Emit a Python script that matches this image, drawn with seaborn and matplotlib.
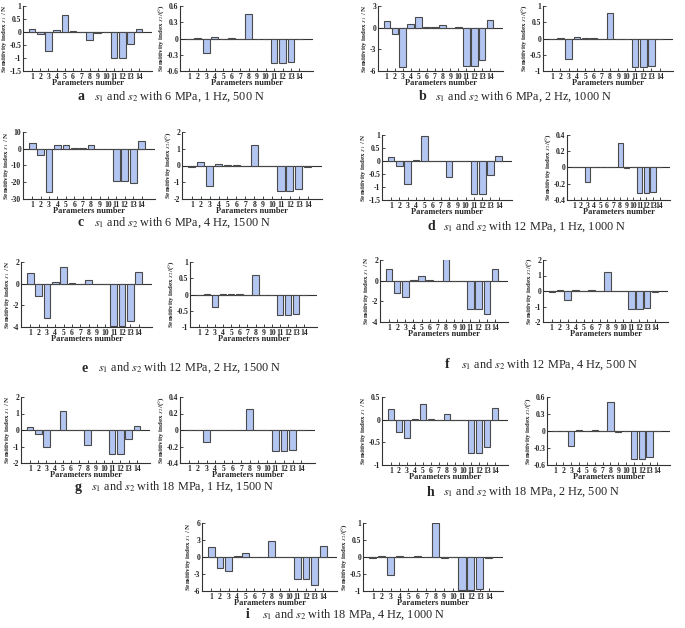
import numpy as np
import pandas as pd
import seaborn as sns
import matplotlib.pyplot as plt

params = [str(i) for i in range(1, 15)]

# s1 (left, N) and s2 (right, degree) sensitivity indices per condition
a_s1 = [0.1, -0.08, -0.72, 0.07, 0.65, 0.02, 0.0, -0.3, -0.02, 0.0, -1.0, -1.0, -0.45, 0.12]
a_s2 = [-0.005, 0.005, -0.27, 0.02, 0.0, 0.01, 0.0, 0.45, -0.01, 0.0, -0.45, -0.45, -0.43, 0.0]
b_s1 = [0.9, -0.9, -5.4, 0.5, 1.5, 0.1, 0.05, 0.4, -0.05, 0.05, -5.3, -5.3, -4.5, 1.05]
b_s2 = [-0.02, 0.03, -0.62, 0.05, 0.01, 0.02, 0.0, 0.8, -0.02, 0.0, -0.88, -0.88, -0.85, -0.02]
c_s1 = [3.5, -3.5, -26, 2.5, 2.0, 0.5, 0.2, 2.0, -0.2, 0.0, -19, -19, -20.5, 4.8]
c_s2 = [-0.1, 0.2, -1.2, 0.1, 0.02, 0.05, 0.0, 1.25, -0.03, 0.0, -1.5, -1.5, -1.4, -0.08]
d_s1 = [0.15, -0.18, -0.87, 0.03, 0.95, 0.01, 0.0, -0.62, 0.0, 0.0, -1.27, -1.27, -0.52, 0.18]
d_s2 = [0.0, 0.0, -0.18, 0.005, 0.0, 0.005, 0.0, 0.3, -0.005, 0.0, -0.31, -0.31, -0.3, 0.0]
e_s1 = [1.0, -1.1, -3.2, 0.15, 1.55, 0.05, 0.0, 0.35, -0.05, 0.0, -3.95, -3.95, -3.4, 1.05]
e_s2 = [-0.01, 0.02, -0.38, 0.02, 0.01, 0.02, 0.0, 0.6, -0.01, 0.0, -0.62, -0.62, -0.6, 0.0]
f_s1 = [1.1, -1.2, -1.6, 0.08, 0.45, 0.03, 0.0, 2.1, 0.0, 0.0, -2.7, -2.7, -3.25, 1.1]
f_s2 = [-0.05, 0.05, -0.6, 0.05, 0.01, 0.05, 0.0, 1.2, -0.02, 0.0, -1.15, -1.15, -1.1, -0.05]
g_s1 = [0.18, -0.22, -1.0, 0.03, 1.15, 0.01, 0.0, -0.88, 0.0, 0.0, -1.45, -1.45, -0.55, 0.22]
g_s2 = [0.0, 0.0, -0.15, 0.003, 0.0, 0.005, 0.0, 0.25, -0.003, 0.0, -0.25, -0.25, -0.24, 0.0]
h_s1 = [0.23, -0.27, -0.4, 0.02, 0.35, 0.01, 0.0, 0.12, 0.0, 0.0, -0.73, -0.73, -0.6, 0.25]
h_s2 = [0.0, 0.005, -0.26, 0.01, 0.0, 0.02, 0.0, 0.52, -0.02, 0.0, -0.49, -0.49, -0.46, 0.0]
i_s1 = [1.8, -2.0, -2.4, 0.1, 0.7, 0.02, 0.0, 2.8, -0.05, 0.0, -3.9, -3.9, -4.9, 1.95]
i_s2 = [-0.03, 0.04, -0.52, 0.02, 0.01, 0.03, 0.0, 1.0, -0.02, 0.0, -0.97, -0.97, -0.93, -0.03]

captions = ["6 MPa, 1 Hz, 500 N", "6 MPa, 2 Hz, 1000 N", "6 MPa, 4 Hz, 1500 N",
            "12 MPa, 1 Hz, 1000 N", "12 MPa, 2 Hz, 1500 N", "12 MPa, 4 Hz, 500 N",
            "18 MPa, 1 Hz, 1500 N", "18 MPa, 2 Hz, 500 N", "18 MPa, 4 Hz, 1000 N"]
letters = list("abcdefghi")

s1_ticks = [[1, 0.5, 0, -0.5, -1, -1.5], [3, 0, -3, -6], [10, 0, -10, -20, -30],
            [1, 0.5, 0, -0.5, -1, -1.5], [2, 0, -2, -4], [2, 0, -2, -4],
            [2, 1, 0, -1, -2], [0.5, 0, -0.5, -1], [6, 3, 0, -3, -6]]
s2_ticks = [[0.6, 0.3, 0, -0.3, -0.6], [1, 0.5, 0, -0.5, -1], [2, 1, 0, -1, -2],
            [0.4, 0.2, 0, -0.2, -0.4], [1, 0.5, 0, -0.5, -1], [2, 1, 0, -1, -2],
            [0.4, 0.2, 0, -0.2, -0.4], [0.6, 0.3, 0, -0.3, -0.6], [1, 0.5, 0, -0.5, -1]]

s1_all = [a_s1, b_s1, c_s1, d_s1, e_s1, f_s1, g_s1, h_s1, i_s1]
s2_all = [a_s2, b_s2, c_s2, d_s2, e_s2, f_s2, g_s2, h_s2, i_s2]

sns.set_theme(style="ticks")
plt.rcParams["font.family"] = ["Liberation Serif", "DejaVu Serif"]
plt.rcParams["mathtext.fontset"] = "stix"

W, H = 685, 628
fig = plt.figure(figsize=(6.85, 6.28), dpi=100)

# axes boxes in pixels: (left x0, x1, right x0, x1, y0, y1, caption x, caption y)
boxes = [
    (23, 152, 180, 313, 6, 71, 78, 97),
    (378, 503, 543, 673, 6, 71, 419, 97),
    (23, 155, 182, 322, 132, 199, 78, 223),
    (382, 512, 567, 670, 135, 200, 427, 227),
    (21, 152, 190, 317, 262, 327, 82, 368),
    (380, 508, 543, 668, 260, 322, 445, 365),
    (21, 150, 180, 315, 397, 463, 75, 487),
    (382, 508, 547, 670, 397, 465, 427, 492),
    (202, 337, 363, 503, 523, 591, 246, 615),
]

bar_color = "#b3c6f2"
edge = "#4a4a4a"


def fmt(v):
    if v == 0:
        return "0"
    if float(v).is_integer():
        return str(int(v))
    return f"{v:g}"


def draw(ax, vals, ticks, ylab):
    df = pd.DataFrame({"param": params, "value": vals})
    sns.barplot(data=df, x="param", y="value", color=bar_color, edgecolor=edge,
                linewidth=0.8, width=0.8, saturation=1, ax=ax)
    ax.axhline(0, color="#333333", lw=0.8, zorder=0)
    ax.set_xlim(-1.1, 14.6)
    ax.set_ylim(min(ticks), max(ticks))
    ax.set_yticks(ticks)
    ax.set_yticklabels([fmt(t) for t in ticks])
    sns.despine(ax=ax)
    for s in ["left", "bottom"]:
        ax.spines[s].set_linewidth(0.8)
        ax.spines[s].set_color("#333333")
    ax.tick_params(direction="in", length=2, width=0.6, pad=1.2, labelsize=5.5)
    for lab in ax.get_xticklabels() + ax.get_yticklabels():
        lab.set_fontweight("bold")
    ax.set_xlabel("Parameters number", fontsize=6, fontweight="bold", labelpad=-1)
    ax.set_ylabel(ylab, fontsize=5, fontweight="bold", labelpad=0.5)


for k in range(9):
    lx0, lx1, rx0, rx1, y0, y1, cx, cy = boxes[k]
    axl = fig.add_axes([lx0 / W, 1 - y1 / H, (lx1 - lx0) / W, (y1 - y0) / H])
    axr = fig.add_axes([rx0 / W, 1 - y1 / H, (rx1 - rx0) / W, (y1 - y0) / H])
    draw(axl, s1_all[k], s1_ticks[k], r"Sensitivity index $s_1$ / N")
    draw(axr, s2_all[k], s2_ticks[k], r"Sensitivity index $s_2$/(°)")
    fig.text(cx / W, 1 - cy / H, letters[k], fontsize=10, fontweight="bold",
             ha="left", va="center")
    fig.text((cx + 16) / W, 1 - cy / H,
             r"$s_1$ and $s_2$ with " + captions[k], fontsize=8.8,
             ha="left", va="center")

fig.savefig("out.png", dpi=100)
